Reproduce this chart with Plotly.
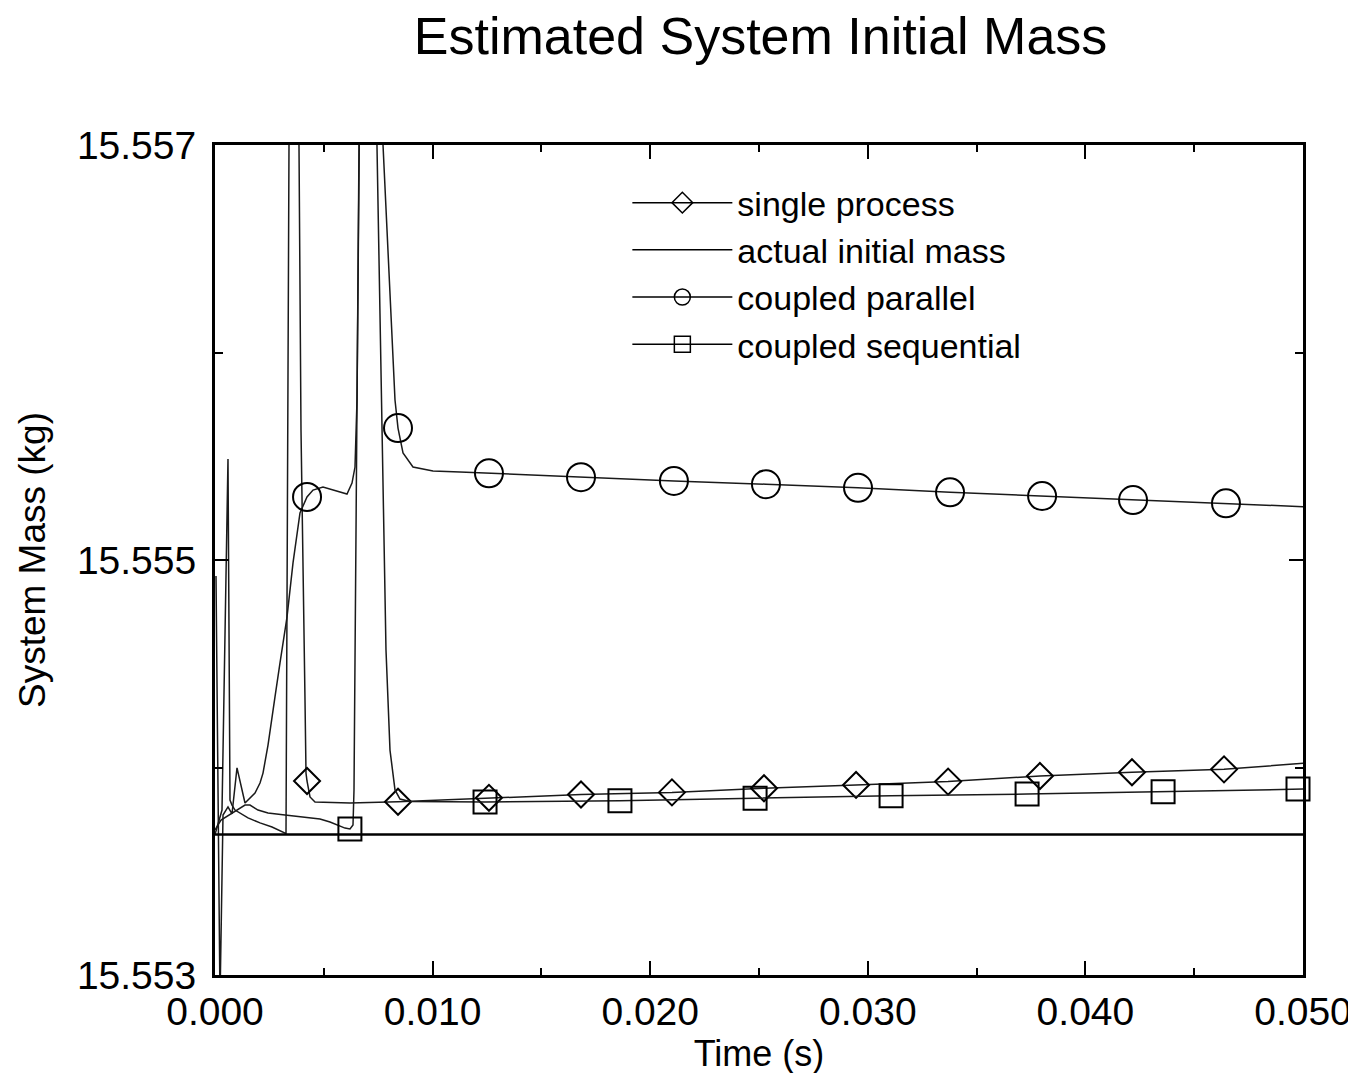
import plotly.graph_objects as go

# ---------------- data ----------------
single_t = [0, 0.000322, 0.000597, 0.000689, 0.000781, 0.000919, 0.001517, 0.002068, 0.00262,
            0.003217, 0.003263, 0.003575, 0.00386, 0.003952, 0.004136, 0.004182, 0.004228,
            0.004366, 0.004596, 0.006204, 0.00841, 0.012592, 0.01682, 0.021002, 0.02523,
            0.029458, 0.033686, 0.037914, 0.042142, 0.04637, 0.05]
single_m = [15.553677, 15.553795, 15.555487, 15.553843, 15.553819, 15.553795, 15.553757, 15.553733,
            15.553713, 15.553684, 15.553677, 15.5612, 15.557, 15.555626, 15.554325, 15.553973,
            15.553935, 15.553858, 15.553834, 15.553829, 15.553835, 15.553854, 15.55387, 15.55388,
            15.5539, 15.553916, 15.553932, 15.553959, 15.553977, 15.553991, 15.55402]

parallel_t = [0.000046, 0.00023, 0.000368, 0.000597, 0.000781, 0.001011, 0.001379, 0.001838,
              0.002068, 0.002206, 0.002436, 0.002528, 0.002757, 0.002987, 0.003309, 0.003585,
              0.003906, 0.004228, 0.004504, 0.004963, 0.005423, 0.006066, 0.006296, 0.006434,
              0.006526, 0.006618, 0.006801, 0.007721, 0.008272, 0.00841, 0.00864, 0.009099,
              0.010018, 0.011259, 0.012592, 0.01682, 0.021094, 0.025322, 0.02955, 0.033778,
              0.038006, 0.042188, 0.046461, 0.05]
parallel_m = [15.554923, 15.55288, 15.553771, 15.55381, 15.553776, 15.553998, 15.553829, 15.553877,
              15.553925, 15.553973, 15.554108, 15.554181, 15.55434, 15.554504, 15.554725, 15.554986,
              15.555227, 15.555304, 15.555337, 15.555352, 15.555337, 15.555318, 15.555371, 15.555448,
              15.555771, 15.557, 15.55906, 15.557, 15.555771, 15.555636, 15.555516, 15.555448,
              15.555429, 15.555424, 15.555418, 15.555399, 15.555381, 15.555365, 15.555348, 15.555326,
              15.555308, 15.555289, 15.555273, 15.555257]

sequential_t = [0, 0.000276, 0.001379, 0.001608, 0.001976, 0.002436, 0.003217, 0.003676, 0.004274,
                0.004825, 0.005285, 0.005974, 0.006204, 0.006342, 0.006388, 0.006526, 0.006618,
                0.006847, 0.007445, 0.007675, 0.007858, 0.008042, 0.008272, 0.008502, 0.008961,
                0.012408, 0.018612, 0.024816, 0.031066, 0.037316, 0.043566, 0.04977, 0.05]
sequential_m = [15.553699, 15.553747, 15.553819, 15.553819, 15.553795, 15.553781, 15.553771, 15.553766,
                15.553761, 15.553752, 15.553737, 15.553708, 15.553704, 15.553723, 15.553892, 15.555626,
                15.557, 15.5605, 15.557, 15.555626, 15.554566, 15.554084, 15.553892, 15.553848,
                15.553836, 15.553834, 15.55384, 15.553852, 15.553864, 15.553872, 15.553883, 15.553896,
                15.553896]

actual_t = [0.0, 0.05]
actual_m = [15.553677, 15.553677]

# marker positions
single_mk_t = [0.00423, 0.00841, 0.01259, 0.01682, 0.02100, 0.02523, 0.02946, 0.03369, 0.03791, 0.04214, 0.04637]
single_mk_m = [15.553935, 15.553835, 15.553854, 15.55387, 15.55388, 15.5539, 15.553916, 15.553932,
               15.553959, 15.553977, 15.553991]
parallel_mk_t = [0.00423, 0.00841, 0.01259, 0.01682, 0.02109, 0.02532, 0.02955, 0.03378, 0.03801, 0.04219, 0.04646]
parallel_mk_m = [15.555304, 15.555636, 15.555418, 15.555399, 15.555381, 15.555365, 15.555348, 15.555326,
                 15.555308, 15.555289, 15.555273]
sequential_mk_t = [0.00620, 0.01241, 0.01861, 0.02482, 0.03107, 0.03732, 0.04357, 0.04977]
sequential_mk_m = [15.553704, 15.553834, 15.55384, 15.553852, 15.553864, 15.553872, 15.553883, 15.553896]

names = ["single process", "actual initial mass", "coupled parallel", "coupled sequential"]

x_ticks = [0.0, 0.01, 0.02, 0.03, 0.04, 0.05]
y_ticks = [15.553, 15.555, 15.557]

# ---------------- figure ----------------
FONT = "Arial, Liberation Sans, sans-serif"
LINE_C = "#1a1a1a"
fig = go.Figure()

series = [
    (names[0], single_t, single_m, single_mk_t, single_mk_m, "diamond-open", 20),
    (names[2], parallel_t, parallel_m, parallel_mk_t, parallel_mk_m, "circle-open", 28),
    (names[3], sequential_t, sequential_m, sequential_mk_t, sequential_mk_m, "square-open", 23),
]

# data lines
for name, tx, my, mx, mm, sym, sz in series:
    fig.add_trace(go.Scatter(x=tx, y=my, mode="lines", name=name, legendgroup=name,
                             showlegend=False, line=dict(color=LINE_C, width=1.5)))
    fig.add_trace(go.Scatter(x=mx, y=mm, mode="markers", name=name, legendgroup=name,
                             showlegend=False, cliponaxis=False,
                             marker=dict(symbol=sym, size=sz, color="black",
                                         line=dict(width=2, color="black"))))

fig.add_trace(go.Scatter(x=actual_t, y=actual_m, mode="lines", name=names[1], legendgroup=names[1],
                         showlegend=False, line=dict(color="black", width=2.5)))

# legend entries (order as in reference)
legend_defs = [
    (names[0], "diamond-open"),
    (names[1], None),
    (names[2], "circle-open"),
    (names[3], "square-open"),
]
for name, sym in legend_defs:
    if sym is None:
        fig.add_trace(go.Scatter(x=[None], y=[None], mode="lines", name=name, legendgroup=name,
                                 line=dict(color="black", width=1.5)))
    else:
        fig.add_trace(go.Scatter(x=[None], y=[None], mode="lines+markers", name=name, legendgroup=name,
                                 line=dict(color="black", width=1.5),
                                 marker=dict(symbol=sym, size=16, color="black",
                                             line=dict(width=1.5, color="black"))))

axis_common = dict(
    showgrid=False, zeroline=False, showline=True, linecolor="black", linewidth=3,
    mirror="allticks", ticks="inside", ticklen=14, tickwidth=1.5, tickcolor="black",
    tickfont=dict(family=FONT, size=39, color="black"),
)

fig.update_xaxes(
    range=[0, 0.05], tickvals=x_ticks, tickformat=".3f",
    minor=dict(dtick=0.005, ticks="inside", ticklen=7, tickwidth=1.5, tickcolor="black"),
    title=dict(text="Time (s)", font=dict(family=FONT, size=36, color="black"), standoff=4),
    **axis_common,
)
fig.update_yaxes(
    range=[15.553, 15.557], tickvals=y_ticks, tickformat=".3f", ticklabelstandoff=8,
    minor=dict(dtick=0.001, ticks="inside", ticklen=8, tickwidth=1.5, tickcolor="black"),
    title=dict(text="System Mass (kg)", font=dict(family=FONT, size=37, color="black"), standoff=20),
    **axis_common,
)

fig.update_layout(
    width=1356, height=1073,
    margin=dict(l=207, r=61, t=137, b=106),
    paper_bgcolor="white", plot_bgcolor="white",
    font=dict(family=FONT, color="black"),
    title=dict(text="Estimated System Initial Mass", x=0.555, xanchor="center",
               y=0.974, yref="container", yanchor="middle",
               font=dict(family=FONT, size=52, color="black")),
    legend=dict(x=0.379, y=0.965, xanchor="left", yanchor="top", bgcolor="rgba(0,0,0,0)",
                font=dict(family=FONT, size=34, color="black"), itemwidth=100,
                tracegroupgap=0),
)

fig.write_html("out.html")
